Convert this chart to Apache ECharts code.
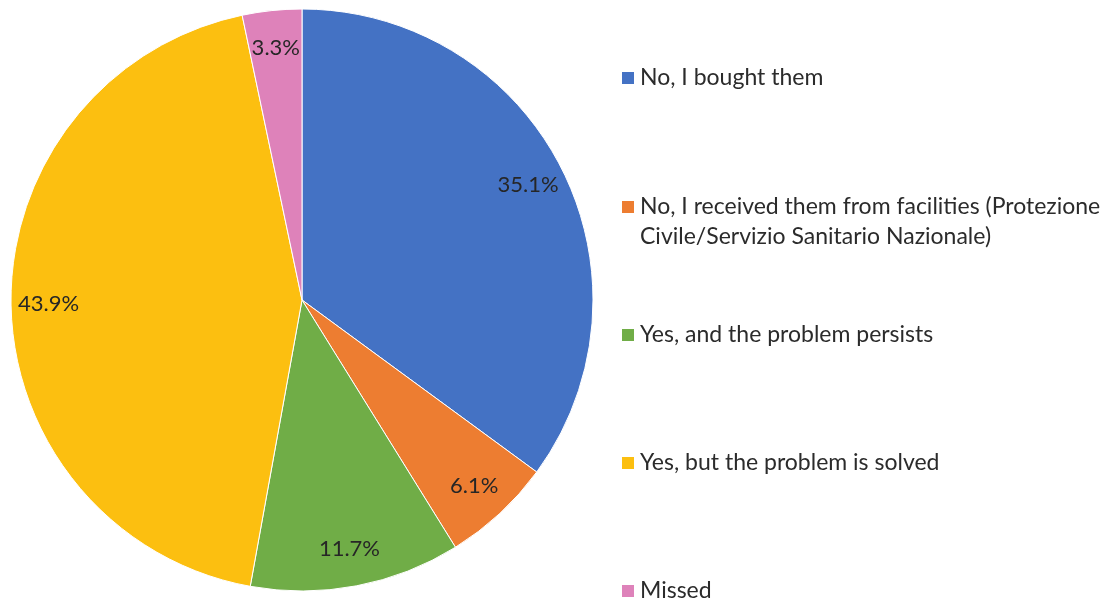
<!DOCTYPE html>
<html>
<head>
<meta charset="utf-8">
<script src="https://cdn.jsdelivr.net/npm/echarts@6/dist/echarts.min.js"></script>
<style>
html,body{margin:0;padding:0;background:#fff;}
#chart{width:1103px;height:605px;}
</style>
</head>
<body>
<div id="chart"></div>
<script>
const categories = [
  'No, I bought them',
  'No, I received them from facilities (Protezione Civile/Servizio Sanitario Nazionale)',
  'Yes, and the problem persists',
  'Yes, but the problem is solved',
  'Missed'
];
const legendLines = [
  ['No, I bought them'],
  ['No, I received them from facilities (Protezione', 'Civile/Servizio Sanitario Nazionale)'],
  ['Yes, and the problem persists'],
  ['Yes, but the problem is solved'],
  ['Missed']
];
const values = [35.1, 6.1, 11.7, 43.9, 3.3];
const colors = ['#4472C4', '#ED7D31', '#70AD47', '#FCBF10', '#DE82BA'];

const FONT = 'Lato';
const chart = echarts.init(document.getElementById('chart'));
const data = categories.map((c, i) => ({ name: c, value: values[i], itemStyle: { color: colors[i] } }));

const legendCenters = [78, 207, 335, 463, 591];
const LH = 30;
const legends = categories.map((c, i) => {
  const lines = legendLines[i];
  const shown = lines.length > 1 ? [' '].concat(lines) : lines;
  const centerOffset = lines.length > 1 ? LH * 1.5 : LH / 2;
  return {
    data: [c],
    orient: 'vertical',
    left: 620,
    top: legendCenters[i] - centerOffset,
    padding: 0,
    itemWidth: 14,
    itemHeight: 14,
    itemGap: 0,
    icon: 'rect',
    selectedMode: false,
    formatter: () => shown.join('\n'),
    textStyle: { fontFamily: FONT, fontSize: 23, color: '#2b2b2b', lineHeight: LH }
  };
});

chart.setOption({
  animation: false,
  legend: legends,
  series: [
    {
      type: 'pie',
      center: [302, 300],
      radius: [0, 291],
      startAngle: 90,
      clockwise: true,
      silent: true,
      label: { show: false },
      labelLine: { show: false },
      itemStyle: { borderColor: '#ffffff', borderWidth: 1 },
      data: data
    },
    {
      type: 'pie',
      center: [302, 300],
      radius: [210, 291],
      startAngle: 90,
      clockwise: true,
      silent: true,
      legendHoverLink: false,
      itemStyle: { color: 'rgba(0,0,0,0)', borderWidth: 0 },
      label: {
        show: true,
        position: 'inside',
        formatter: p => p.value.toFixed(1) + '%',
        fontFamily: FONT,
        fontSize: 22,
        color: '#262626'
      },
      labelLine: { show: false },
      data: categories.map((c, i) => ({ name: c + ' ', value: values[i] }))
    }
  ]
});
</script>
</body>
</html>
